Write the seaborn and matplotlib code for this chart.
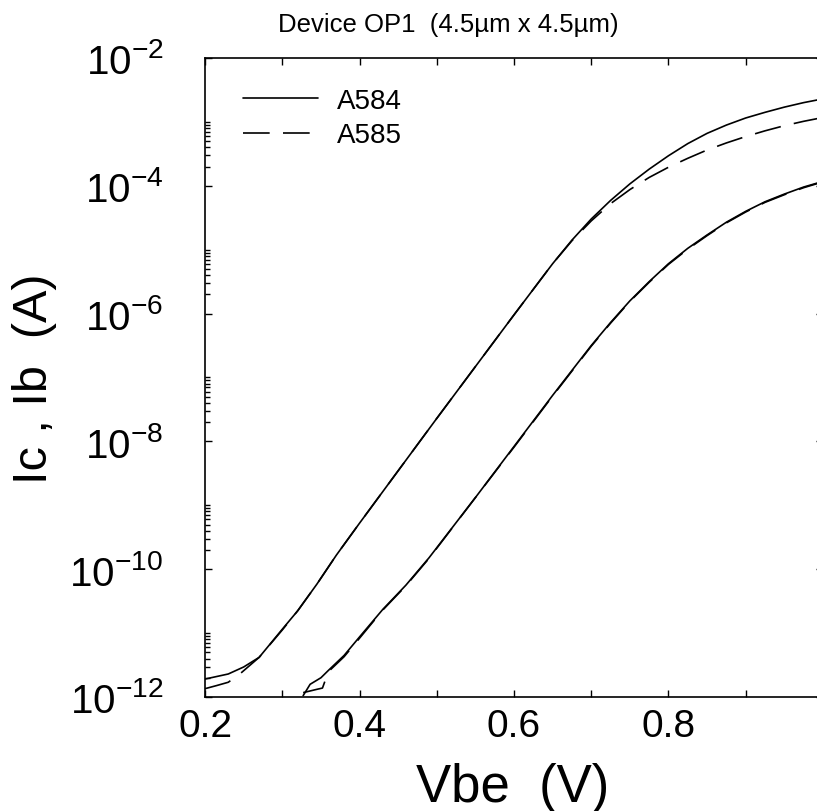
import matplotlib
matplotlib.use("Agg")
import matplotlib.pyplot as plt
from matplotlib.ticker import FixedLocator, FixedFormatter, NullFormatter
import pandas as pd
import seaborn as sns

# ---------------- data ----------------
vbe_ic_a584 = [0.20, 0.23, 0.25, 0.27, 0.30, 0.32, 0.345, 0.37, 0.40, 0.45, 0.50,
               0.55, 0.60, 0.625, 0.65, 0.675, 0.70, 0.725, 0.75, 0.775, 0.80,
               0.825, 0.85, 0.875, 0.90, 0.925, 0.95, 0.975, 1.00]
ic_a584 = [1.91e-12, 2.29e-12, 2.95e-12, 4.17e-12, 1.15e-11, 2.24e-11, 5.89e-11,
           1.66e-10, 5.25e-10, 3.47e-9, 2.29e-8, 1.48e-7, 9.55e-7, 2.40e-6,
           6.03e-6, 1.41e-5, 3.02e-5, 5.89e-5, 1.07e-4, 1.82e-4, 2.95e-4,
           4.57e-4, 6.61e-4, 8.91e-4, 1.15e-3, 1.41e-3, 1.70e-3, 2.00e-3, 2.29e-3]

vbe_ic_a585 = [0.20, 0.215, 0.23, 0.245, 0.27, 0.30, 0.32, 0.345, 0.37, 0.40, 0.45,
               0.50, 0.55, 0.60, 0.625, 0.65, 0.675, 0.70, 0.725, 0.75, 0.775,
               0.80, 0.825, 0.85, 0.875, 0.90, 0.925, 0.95, 0.975, 1.00]
ic_a585 = [1.35e-12, 1.51e-12, 1.70e-12, 2.29e-12, 4.17e-12, 1.12e-11, 2.24e-11,
           5.89e-11, 1.66e-10, 5.25e-10, 3.47e-9, 2.29e-8, 1.48e-7, 9.55e-7,
           2.40e-6, 6.03e-6, 1.38e-5, 2.82e-5, 5.25e-5, 8.71e-5, 1.35e-4,
           1.95e-4, 2.69e-4, 3.63e-4, 4.68e-4, 5.89e-4, 7.24e-4, 8.71e-4,
           1.02e-3, 1.17e-3]

vbe_ib_a584 = [0.327, 0.336, 0.35, 0.36, 0.38, 0.40, 0.43, 0.46, 0.49, 0.55, 0.60,
               0.65, 0.70, 0.725, 0.75, 0.775, 0.80, 0.825, 0.85, 0.875, 0.90,
               0.925, 0.95, 0.975, 1.00]
ib_a584 = [1.05e-12, 1.58e-12, 2.00e-12, 2.63e-12, 4.47e-12, 8.71e-12, 2.34e-11,
           5.62e-11, 1.51e-10, 1.32e-9, 8.32e-9, 5.25e-8, 3.16e-7, 7.24e-7,
           1.58e-6, 3.16e-6, 6.03e-6, 1.05e-5, 1.70e-5, 2.69e-5, 3.98e-5,
           5.62e-5, 7.41e-5, 9.55e-5, 1.17e-4]

vbe_ib_a585 = [0.327, 0.345, 0.352, 0.355, 0.36, 0.38, 0.40, 0.43, 0.46, 0.49, 0.55,
               0.60, 0.65, 0.70, 0.725, 0.75, 0.775, 0.80, 0.825, 0.85, 0.875,
               0.90, 0.925, 0.95, 0.975, 1.00]
ib_a585 = [1.17e-12, 1.32e-12, 1.38e-12, 1.74e-12, 2.51e-12, 4.27e-12, 8.32e-12,
           2.29e-11, 5.50e-11, 1.48e-10, 1.32e-9, 8.13e-9, 5.13e-8, 3.09e-7,
           7.08e-7, 1.55e-6, 3.09e-6, 5.89e-6, 1.02e-5, 1.66e-5, 2.63e-5,
           3.89e-5, 5.50e-5, 7.24e-5, 9.33e-5, 1.15e-4]

devices = ["A584", "A585"]

x_major_ticks = [0.2, 0.4, 0.6, 0.8]
x_major_labels = ["0.2", "0.4", "0.6", "0.8"]
x_minor_ticks = [0.3, 0.5, 0.7, 0.9, 1.0]
y_major_ticks = [1e-12, 1e-10, 1e-8, 1e-6, 1e-4, 1e-2]
y_major_labels = [r"$\mathregular{10^{-12}}$", r"$\mathregular{10^{-10}}$",
                  r"$\mathregular{10^{-8}}$", r"$\mathregular{10^{-6}}$",
                  r"$\mathregular{10^{-4}}$", r"$\mathregular{10^{-2}}$"]
y_minor_decades = [1e-12, 1e-10, 1e-8, 1e-6, 1e-4]
y_minor_mults = [2, 3, 4, 5, 6, 7, 8, 9, 10]

title_text = "Device OP1  (4.5\u00b5m x 4.5\u00b5m)"
x_label = "Vbe  (V)"
y_label = "Ic , Ib  (A)"

# ---------------- style ----------------
sns.set_theme(style="ticks")
plt.rcParams["font.family"] = ["Liberation Sans", "DejaVu Sans"]
plt.rcParams["mathtext.fontset"] = "custom"
plt.rcParams["mathtext.rm"] = "Liberation Sans"
plt.rcParams["mathtext.it"] = "Liberation Sans:italic"
plt.rcParams["mathtext.bf"] = "Liberation Sans:bold"
plt.rcParams["text.color"] = "black"
plt.rcParams["axes.labelcolor"] = "black"
plt.rcParams["xtick.color"] = "black"
plt.rcParams["ytick.color"] = "black"
plt.rcParams["axes.edgecolor"] = "black"

fig = plt.figure(figsize=(8.17, 8.12), dpi=100)
ax = fig.add_axes([0.251, 0.1404, 0.7563, 0.787])

dash_style = (0, (16, 8))
lw = 1.2
series = [
    (vbe_ic_a584, ic_a584, "-", devices[0]),
    (vbe_ic_a585, ic_a585, dash_style, devices[1]),
    (vbe_ib_a584, ib_a584, "-", None),
    (vbe_ib_a585, ib_a585, dash_style, None),
]
for vx, iy, ls, lab in series:
    df = pd.DataFrame({"Vbe": vx, "I": iy})
    sns.lineplot(data=df, x="Vbe", y="I", ax=ax, color="black", linewidth=lw,
                 linestyle=ls, label=lab, legend=False)

ax.set_yscale("log")
ax.set_xlim(0.2, 1.0)
ax.set_ylim(1e-12, 1e-2)

ax.xaxis.set_major_locator(FixedLocator(x_major_ticks))
ax.xaxis.set_major_formatter(FixedFormatter(x_major_labels))
ax.xaxis.set_minor_locator(FixedLocator(x_minor_ticks))
ax.xaxis.set_minor_formatter(NullFormatter())

ax.yaxis.set_major_locator(FixedLocator(y_major_ticks))
ax.yaxis.set_major_formatter(FixedFormatter(y_major_labels))
ax.yaxis.set_minor_locator(FixedLocator([m * d for d in y_minor_decades for m in y_minor_mults]))
ax.yaxis.set_minor_formatter(NullFormatter())

ax.tick_params(which="both", direction="in", top=True, right=True, color="black",
               labelcolor="black", width=1.0)
ax.tick_params(axis="x", which="major", length=5, labelsize=28, pad=8)
ax.tick_params(axis="x", which="minor", length=5)
ax.tick_params(axis="y", which="major", length=5, labelsize=29, pad=30)
ax.tick_params(axis="y", which="minor", length=3.5)
for s in ax.spines.values():
    s.set_linewidth(1.2)
    s.set_color("black")

ax.set_xlabel(x_label, fontsize=38, color="black")
ax.set_ylabel(y_label, fontsize=35, color="black")
ax.xaxis.set_label_coords(0.497, -0.102)
ax.yaxis.set_label_coords(-0.24, 0.5)

ax.legend(loc="upper left", bbox_to_anchor=(0.0615, 0.953), frameon=False,
          fontsize=20, borderaxespad=0, borderpad=0, handlelength=2.7,
          handletextpad=0.68, labelspacing=0.3)

fig.text(0.549, 0.969, title_text, ha="center", va="center", fontsize=18.5,
         color="black")

fig.savefig("out.png", dpi=100)
